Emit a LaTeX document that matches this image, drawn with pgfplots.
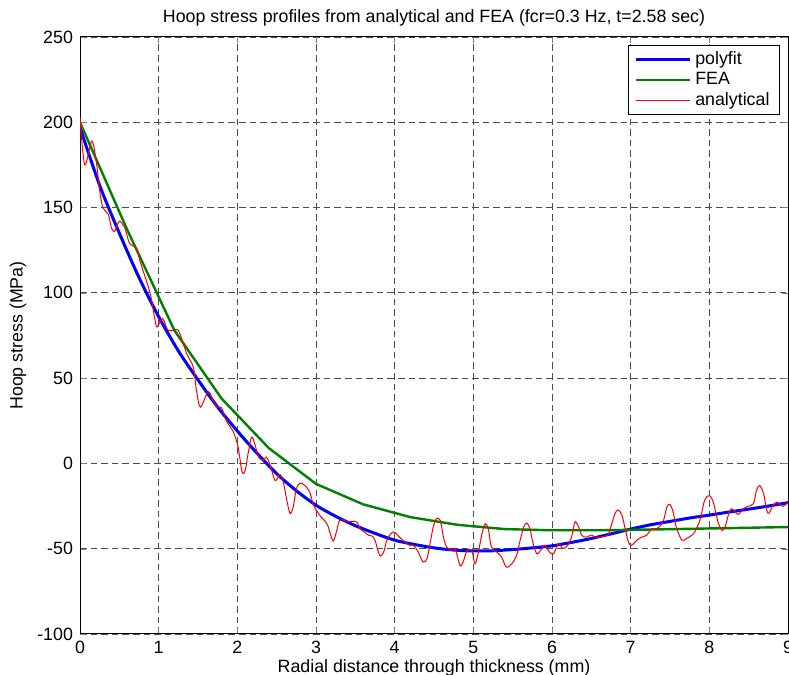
\documentclass[border=0pt]{standalone}
\usepackage{pgfplots}
\pgfplotsset{compat=1.18}
\usepackage{fontspec}
\setmainfont{Liberation Sans}
\usetikzlibrary{calc}

\definecolor{mlblue}{rgb}{0,0,1}
\definecolor{mlgreen}{rgb}{0,0.5,0}
\definecolor{mlred}{rgb}{1,0,0}

\begin{document}
\begin{tikzpicture}
\begin{axis}[
  name=ax,
  scale only axis,
  width=354pt, height=298.5pt,
  xmin=0, xmax=9, ymin=-100, ymax=250,
  xtick={0,1,...,9},
  ytick={-100,-50,...,250},
  tick align=inside,
  major tick length=3pt,
  grid=major,
  grid style={dash pattern=on 3.3pt off 2pt, line width=0.45pt, black!70},
  axis line style={line width=0.5pt},
  font=\fontsize{8.9}{10.5}\selectfont,
  /pgf/number format/assume math mode=true,
  ticklabel style={font=\fontsize{8.9}{10.5}\selectfont},
  title={Hoop stress profiles from analytical and FEA (fcr=0.3 Hz, t=2.58 sec)},
  % the default title style shifts it up 6pt; take that back
  title style={at={(axis description cs:0.5,1.032)}, anchor=center, yshift=-6pt},
  xlabel={Radial distance through thickness (mm)},
  xlabel style={at={(axis description cs:0.5,-0.056)}, anchor=center},
  ylabel={Hoop stress (MPa)},
  ylabel style={at={(axis description cs:-0.0875,0.5)}, anchor=center},
  legend style={at={(1,1)}, anchor=north east, xshift=-4pt, yshift=-4pt,
                draw=black, fill=white, line width=0.5pt,
                font=\fontsize{8.9}{10.5}\selectfont, row sep=-1.5pt,
                inner xsep=3pt, inner ysep=1pt},
  legend cell align=left,
  legend image code/.code={\draw[#1] (0pt,0pt) -- (27pt,0pt);},
]
% polyfit
\addplot[mlblue, line width=1.5pt, smooth] coordinates {
  (0,197) (0.25,163) (0.5,135) (0.75,109) (1,86) (1.25,66) (1.5,49)
  (1.75,33) (2,19) (2.25,6) (2.5,-6) (2.75,-16) (3,-24.5) (3.25,-31)
  (3.5,-36.5) (3.75,-41) (4,-45) (4.25,-47.5) (4.5,-49.5) (4.75,-50.8)
  (5,-51.3) (5.25,-51.2) (5.5,-50.5) (5.75,-49.5) (6,-48.3) (6.25,-46.3)
  (6.5,-44) (6.75,-41.3) (7,-38.5) (7.25,-36) (7.5,-34) (7.75,-32)
  (8,-30.3) (8.25,-28.5) (8.5,-26.8) (8.75,-25) (9,-23)
};
% FEA
\addplot[mlgreen, line width=1.2pt] coordinates {
  (0,200) (0.6,137) (1.2,78) (1.8,38) (2.4,9) (3.0,-12) (3.6,-24)
  (4.2,-31.5) (4.8,-36) (5.4,-38.5) (6.0,-39.2) (6.6,-39.2) (7.2,-38.8)
  (7.8,-38.3) (8.4,-37.8) (9.0,-37.3)
};
% analytical
\addplot[mlred, line width=0.5pt, smooth, tension=0.5] coordinates {
  (0.00,203) (0.06,175) (0.15,189) (0.21,176) (0.25,160) (0.29,150)
  (0.36,146) (0.40,138) (0.44,136) (0.50,142) (0.57,138) (0.63,129)
  (0.72,126) (0.76,119) (0.89,100) (0.95,85) (0.98,80) (1.05,85)
  (1.12,78) (1.23,78.5) (1.27,76) (1.36,64) (1.44,56.5) (1.48,43)
  (1.53,33) (1.63,42) (1.69,37) (1.74,33) (1.80,32.6) (1.86,25)
  (1.95,18.4) (2.01,9.6) (2.06,-5) (2.10,-4) (2.14,6.6) (2.18,15.4)
  (2.22,11.7) (2.27,3.7) (2.33,1.8) (2.37,3.7) (2.41,0) (2.48,-10)
  (2.54,-6.5) (2.58,-10) (2.63,-21.7) (2.67,-29.4) (2.71,-25.6)
  (2.75,-14.9) (2.80,-11.5) (2.86,-13) (2.92,-16.8) (2.97,-24.6)
  (3.05,-30.5) (3.14,-35.4) (3.18,-41) (3.22,-45.5) (3.26,-40)
  (3.30,-33.4) (3.37,-33.4) (3.41,-34.4) (3.45,-34) (3.52,-34.4)
  (3.56,-38.3) (3.62,-40.3) (3.67,-42.2) (3.71,-42.5) (3.75,-45)
  (3.81,-54) (3.86,-52) (3.90,-45) (3.96,-40.8) (4.00,-40.4)
  (4.07,-43.6) (4.13,-46) (4.19,-48) (4.24,-48) (4.30,-52) (4.36,-57.8)
  (4.41,-55.9) (4.45,-47) (4.49,-37.3) (4.53,-32.4) (4.58,-33.4)
  (4.62,-43.2) (4.66,-49) (4.72,-51) (4.77,-50) (4.83,-59.8)
  (4.87,-57.8) (4.92,-51) (4.98,-51) (5.02,-58.8) (5.06,-53)
  (5.11,-41.2) (5.15,-35.4) (5.19,-38.3) (5.23,-49) (5.30,-52)
  (5.36,-55) (5.42,-60.8) (5.49,-58.8) (5.55,-54) (5.59,-46)
  (5.64,-37.3) (5.68,-35) (5.72,-38.3) (5.76,-47) (5.81,-53) (5.87,-50)
  (5.91,-48) (5.97,-52) (6.02,-53) (6.08,-47) (6.14,-50) (6.20,-48)
  (6.25,-43) (6.29,-34.4) (6.33,-36.3) (6.38,-42.2) (6.44,-43.2)
  (6.50,-42) (6.57,-43.6) (6.65,-42.8) (6.71,-42) (6.76,-35.4)
  (6.80,-29.5) (6.84,-27.2) (6.89,-30.5) (6.93,-38.3) (6.97,-46)
  (7.01,-48) (7.08,-45) (7.14,-43.2) (7.20,-42.2) (7.27,-38.3)
  (7.33,-38.3) (7.41,-34.4) (7.46,-25.6) (7.50,-24) (7.54,-28.5)
  (7.58,-37.3) (7.65,-45) (7.71,-44) (7.80,-41.2) (7.88,-33.4)
  (7.94,-21.7) (8.00,-18.8) (8.05,-22.7) (8.11,-34.4) (8.16,-39.3)
  (8.20,-37.3) (8.24,-30.5) (8.28,-26.6) (8.33,-28.5) (8.37,-29.9)
  (8.43,-26.6) (8.49,-25.2) (8.56,-23.6) (8.60,-15.8) (8.64,-12.9)
  (8.69,-17.8) (8.73,-27.6) (8.76,-29.1) (8.81,-24.6) (8.86,-22.7)
  (8.90,-24) (8.94,-25.2) (8.98,-23.3) (9.00,-23)
};
\legend{polyfit, FEA, analytical}
\end{axis}
% page as in the reference: the 9 at the right edge is cut
\pgfresetboundingbox
\path[use as bounding box] ($(ax.south west)+(-40pt,-20.5pt)$)
  rectangle ($(ax.north east)+(0.5pt,18.5pt)$);
\end{tikzpicture}
\end{document}
